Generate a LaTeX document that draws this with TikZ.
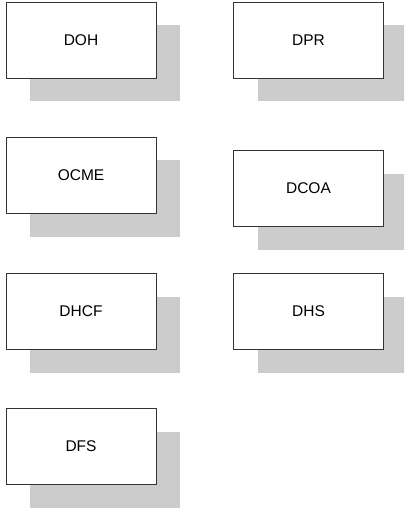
\documentclass[tikz,border=0pt]{standalone}
\usepackage{fontspec}
\setmainfont{Liberation Sans}
\usetikzlibrary{shadows}
\definecolor{shadowgray}{HTML}{CCCCCC}
\definecolor{boxline}{HTML}{333333}
\begin{document}
\begin{tikzpicture}[x=1pt,y=-1pt,
  orgbox/.style={draw=boxline, line width=0.9pt, fill=white, minimum width=150pt, minimum height=76pt,
    inner sep=0pt, font=\fontsize{15.5}{18}\selectfont,
    general shadow={fill=shadowgray, shadow xshift=24pt, shadow yshift=-23.5pt}}]
\clip (0,0) rectangle (404,510);
\useasboundingbox (0,0) rectangle (404,510);
\node[orgbox] (doh)  at (81,40)    {DOH};
\node[orgbox] (dpr)  at (308.5,40) {DPR};
\node[orgbox] (ocme) at (81,175)   {OCME};
\node[orgbox] (dcoa) at (308.5,188.5) {DCOA};
\node[orgbox] (dhcf) at (81,311)   {DHCF};
\node[orgbox] (dhs)  at (308.5,311) {DHS};
\node[orgbox] (dfs)  at (81,446.5) {DFS};
\end{tikzpicture}
\end{document}
